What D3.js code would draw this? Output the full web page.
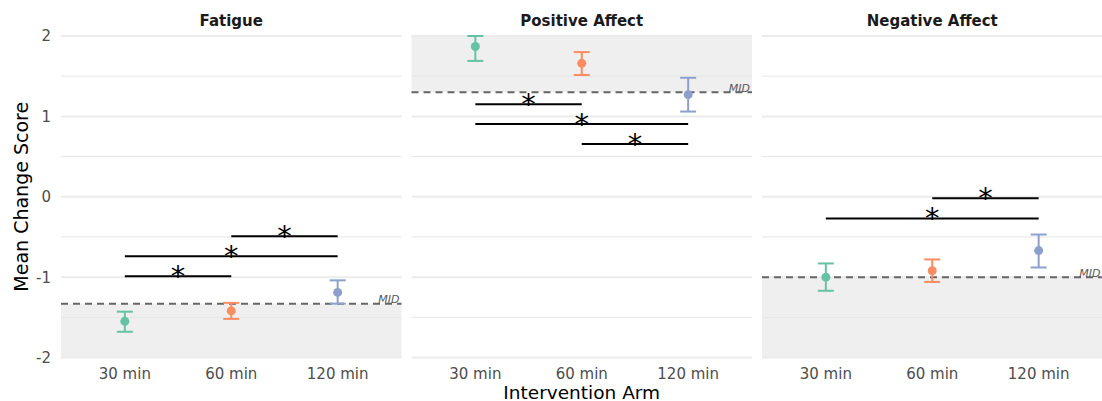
<!DOCTYPE html>
<html><head><meta charset="utf-8">
<script src="https://cdn.jsdelivr.net/npm/d3@7"></script>
<style>body{margin:0;background:#fff}svg{display:block;font-family:"DejaVu Sans",sans-serif}</style>
</head><body>
<svg id="c" width="1102" height="401"></svg>
<script>
const facets = ["Fatigue","Positive Affect","Negative Affect"];
const arms = ["30 min","60 min","120 min"];
const colors = ["#66c2a5","#fc8d62","#8da0cb"];
const means = [[-1.55,-1.42,-1.19],[1.87,1.66,1.27],[-1.0,-0.92,-0.67]];
const lower = [[-1.68,-1.52,-1.33],[1.69,1.515,1.06],[-1.17,-1.06,-0.88]];
const upper = [[-1.43,-1.32,-1.04],[2.0,1.80,1.48],[-0.83,-0.78,-0.47]];
const mids = [-1.33,1.3,-1.0];
// shaded side relative to MID: "below" or "above"
const shadeSide = ["below","above","below"];
// significance brackets: [facet, fromArm, toArm, y]
const sigs = [[0,0,1,-0.99],[0,0,2,-0.74],[0,1,2,-0.49],
              [1,0,1,1.15],[1,0,2,0.905],[1,1,2,0.655],
              [2,1,2,-0.02],[2,0,2,-0.27]];
const yTicks = [-2,-1,0,1,2];
const yMinor = [-1.5,-0.5,0.5,1.5];

const svg = d3.select("#c");
const pTop = 36, pBottom = 357.5, left0 = 61, pw = 340.5, gap = 10;
const y = d3.scaleLinear().domain([-2,2]).range([pBottom, pTop]);

svg.append("g").selectAll("text").data(yTicks).join("text")
  .attr("x",51).attr("y",d=>y(d)).attr("dy","0.36em").attr("text-anchor","end")
  .attr("font-size",15).attr("fill","#4d4d4d").text(d=>d);

facets.forEach((f,i)=>{
  const x0 = left0 + i*(pw+gap);
  const x = d3.scalePoint().domain(arms).range([x0, x0+pw]).padding(0.6);
  const g = svg.append("g");
  const yA = shadeSide[i]==="below" ? y(mids[i]) : pTop;
  const yB = shadeSide[i]==="below" ? pBottom : y(mids[i]);
  g.append("rect").attr("x",x0).attr("width",pw).attr("y",yA).attr("height",yB-yA).attr("fill","#efefef");
  g.selectAll(".mn").data(yMinor).join("line").attr("x1",x0).attr("x2",x0+pw)
    .attr("y1",d=>y(d)).attr("y2",d=>y(d)).attr("stroke","#e6e6e6").attr("stroke-width",1);
  g.selectAll(".mj").data(yTicks).join("line").attr("x1",x0).attr("x2",x0+pw)
    .attr("y1",d=>y(d)).attr("y2",d=>y(d)).attr("stroke","#ebebeb").attr("stroke-width",2);
  g.append("line").attr("x1",x0).attr("x2",x0+pw).attr("y1",y(mids[i])).attr("y2",y(mids[i]))
    .attr("stroke","#666").attr("stroke-width",2).attr("stroke-dasharray","7,5");
  g.append("text").attr("x",x0+pw-2).attr("y",y(mids[i])-0.5).attr("text-anchor","end")
    .attr("font-size",11).attr("font-style","italic").attr("fill","#595959").text("MID");
  g.append("text").attr("x",x0+pw/2).attr("y",26).attr("text-anchor","middle")
    .attr("font-size",15).attr("font-weight","bold").attr("fill","#1a1a1a").text(f);
  g.selectAll(".xt").data(arms).join("text").attr("x",d=>x(d)).attr("y",379)
    .attr("text-anchor","middle").attr("font-size",15).attr("fill","#4d4d4d").text(d=>d);
  arms.forEach((a,j)=>{
    const cx = x(a), c = colors[j];
    g.append("line").attr("x1",cx).attr("x2",cx).attr("y1",y(lower[i][j])).attr("y2",y(upper[i][j])).attr("stroke",c).attr("stroke-width",2);
    [lower[i][j],upper[i][j]].forEach(v=>g.append("line").attr("x1",cx-8).attr("x2",cx+8).attr("y1",y(v)).attr("y2",y(v)).attr("stroke",c).attr("stroke-width",2));
    g.append("circle").attr("cx",cx).attr("cy",y(means[i][j])).attr("r",4.5).attr("fill",c);
  });
  sigs.filter(s=>s[0]===i).forEach(s=>{
    const xa = x(arms[s[1]]), xb = x(arms[s[2]]), yy = y(s[3]);
    g.append("line").attr("x1",xa).attr("x2",xb).attr("y1",yy).attr("y2",yy).attr("stroke","#000").attr("stroke-width",2);
    g.append("text").attr("x",(xa+xb)/2).attr("y",yy+9.5).attr("text-anchor","middle")
      .attr("font-size",29).attr("fill","#000").text("*");
  });
});

svg.append("text").attr("x",left0+(3*pw+2*gap)/2).attr("y",398.5).attr("text-anchor","middle")
  .attr("font-size",18.5).attr("fill","#000").text("Intervention Arm");
svg.append("text").attr("transform",`translate(28,${(pTop+pBottom)/2}) rotate(-90)`).attr("text-anchor","middle")
  .attr("font-size",19).attr("fill","#000").text("Mean Change Score");
</script>
</body></html>
